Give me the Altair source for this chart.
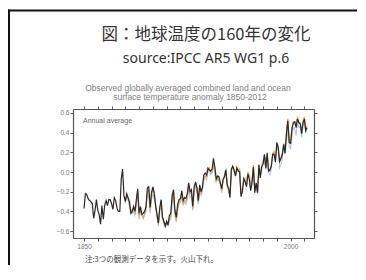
import altair as alt
import pandas as pd

# ---------------- data ----------------
title_text = ["図：地球温度の160年の変化"]
subtitle_text = ["source:IPCC AR5 WG1 p.6"]
inner_title = ["Observed globally averaged combined land and ocean",
               "surface temperature anomaly 1850-2012"]
panel_label = ["Annual average"]
footer_text = ["注:3つの観測データを示す。火山下れ。"]

years_black = list(range(1850, 2013))
black_vals = [
    -0.37, -0.22, -0.23, -0.27, -0.29, -0.30, -0.32, -0.47, -0.39, -0.28,
    -0.39, -0.43, -0.53, -0.34, -0.48, -0.34, -0.29, -0.34, -0.28, -0.28,
    -0.32, -0.38, -0.26, -0.29, -0.37, -0.40, -0.40, -0.08, 0.03, -0.24,
    -0.30, -0.22, -0.26, -0.30, -0.42, -0.40, -0.35, -0.40, -0.28, -0.17,
    -0.42, -0.35, -0.43, -0.42, -0.40, -0.35, -0.16, -0.15, -0.36, -0.21,
    -0.15, -0.22, -0.34, -0.43, -0.52, -0.36, -0.28, -0.46, -0.50, -0.55,
    -0.50, -0.54, -0.44, -0.42, -0.24, -0.18, -0.39, -0.46, -0.33, -0.28,
    -0.27, -0.19, -0.29, -0.26, -0.27, -0.22, -0.11, -0.20, -0.18, -0.35,
    -0.15, -0.10, -0.16, -0.29, -0.13, -0.20, -0.15, -0.03, -0.01, -0.03,
    0.04, 0.02, 0.01, 0.03, 0.14, 0.05, -0.07, -0.04, -0.05, -0.11,
    -0.17, -0.07, -0.05, 0.02, -0.13, -0.17, -0.26, 0.03, 0.06, 0.02,
    -0.04, 0.04, 0.01, 0.00, -0.25, -0.20, -0.07, -0.10, -0.15, -0.02,
    -0.07, -0.19, -0.11, 0.05, -0.21, -0.11, -0.21, 0.07, -0.06, 0.05,
    0.08, 0.18, 0.04, 0.19, 0.01, 0.02, 0.06, 0.18, 0.18, 0.10,
    0.30, 0.25, 0.11, 0.14, 0.18, 0.28, 0.19, 0.39, 0.52, 0.30,
    0.29, 0.44, 0.50, 0.51, 0.45, 0.54, 0.50, 0.49, 0.39, 0.50,
    0.54, 0.42, 0.45,
]

years_other = list(range(1880, 2013))
orange_vals = [
    -0.28, -0.24, -0.27, -0.33, -0.40, -0.38, -0.36, -0.42, -0.31, -0.20,
    -0.45, -0.38, -0.44, -0.47, -0.42, -0.38, -0.20, -0.18, -0.38, -0.24,
    -0.17, -0.20, -0.33, -0.44, -0.52, -0.38, -0.30, -0.47, -0.51, -0.53,
    -0.52, -0.53, -0.47, -0.45, -0.27, -0.21, -0.41, -0.49, -0.37, -0.30,
    -0.29, -0.22, -0.32, -0.29, -0.30, -0.25, -0.13, -0.22, -0.21, -0.37,
    -0.17, -0.12, -0.17, -0.31, -0.16, -0.22, -0.17, -0.06, -0.04, -0.05,
    0.02, 0.04, -0.01, 0.00, 0.10, 0.02, -0.09, -0.06, -0.08, -0.12,
    -0.19, -0.09, -0.04, 0.03, -0.14, -0.18, -0.25, 0.01, 0.05, 0.01,
    -0.02, 0.05, 0.02, 0.03, -0.22, -0.17, -0.06, -0.08, -0.13, 0.00,
    -0.05, -0.16, -0.09, 0.07, -0.18, -0.12, -0.19, 0.08, -0.03, 0.06,
    0.11, 0.17, 0.05, 0.20, 0.02, 0.01, 0.07, 0.19, 0.20, 0.12,
    0.28, 0.25, 0.10, 0.13, 0.19, 0.29, 0.22, 0.40, 0.54, 0.33,
    0.31, 0.44, 0.51, 0.51, 0.47, 0.56, 0.51, 0.50, 0.41, 0.51,
    0.56, 0.43, 0.47,
]
blue_vals = [
    -0.32, -0.25, -0.28, -0.35, -0.42, -0.42, -0.39, -0.45, -0.32, -0.22,
    -0.48, -0.40, -0.42, -0.46, -0.44, -0.40, -0.22, -0.20, -0.42, -0.28,
    -0.22, -0.27, -0.36, -0.45, -0.55, -0.40, -0.33, -0.48, -0.53, -0.56,
    -0.52, -0.55, -0.49, -0.48, -0.31, -0.24, -0.44, -0.51, -0.39, -0.32,
    -0.31, -0.24, -0.34, -0.30, -0.33, -0.28, -0.17, -0.26, -0.25, -0.39,
    -0.20, -0.14, -0.19, -0.33, -0.19, -0.24, -0.19, -0.08, -0.06, -0.08,
    0.00, 0.02, -0.03, -0.01, 0.07, -0.02, -0.10, -0.08, -0.09, -0.13,
    -0.21, -0.08, -0.03, 0.04, -0.15, -0.17, -0.24, 0.02, 0.04, 0.00,
    -0.04, 0.03, 0.01, 0.02, -0.23, -0.18, -0.08, -0.06, -0.14, -0.01,
    -0.03, -0.13, -0.07, 0.04, -0.19, -0.14, -0.23, 0.05, -0.04, 0.03,
    0.10, 0.16, 0.02, 0.17, -0.01, -0.03, 0.04, 0.16, 0.22, 0.13,
    0.25, 0.22, 0.04, 0.07, 0.13, 0.27, 0.18, 0.30, 0.45, 0.26,
    0.24, 0.36, 0.45, 0.44, 0.37, 0.50, 0.45, 0.47, 0.35, 0.46,
    0.51, 0.40, 0.42,
]

y_ticks = [-0.6, -0.4, -0.2, 0.0, 0.2, 0.4, 0.6]
x_ticks = list(range(1850, 2011, 10))
x_labels = [1850, 2000]

# ---------------- chart ----------------
W, H = 241, 129
xs = alt.Scale(domain=[1842, 2017], nice=False, zero=False)
ys = alt.Scale(domain=[-0.67, 0.64], nice=False, zero=False)

axis_common = dict(domainColor="#555", domainWidth=1.2, tickColor="#555",
                   tickWidth=1, grid=False, title=None,
                   labelColor="#777", labelFont="Liberation Sans", labelFontSize=6.5)

label_expr = " || ".join(f"datum.value == {v}" for v in x_labels)
x_bottom = alt.Axis(orient="bottom", values=x_ticks, format="d", tickSize=3,
                    labelPadding=2, labelExpr=f"({label_expr}) ? datum.label : ''",
                    **axis_common)
x_top = alt.Axis(orient="top", values=x_ticks, tickSize=3, labels=False, **axis_common)
y_left = alt.Axis(orient="left", values=y_ticks, format=".1f", tickSize=3,
                  labelPadding=1, **axis_common)
y_right = alt.Axis(orient="right", values=y_ticks, tickSize=3, labels=False, **axis_common)

df_black = pd.DataFrame({"year": years_black, "v": black_vals})
df_other = pd.DataFrame({"year": years_other, "o": orange_vals, "b": blue_vals})

blue = alt.Chart(df_other).mark_line(color="#a9cbe8", strokeWidth=1.1).encode(
    x=alt.X("year:Q", scale=xs, axis=x_top),
    y=alt.Y("b:Q", scale=ys, axis=y_right),
)
orange = alt.Chart(df_other).mark_line(color="#eea257", strokeWidth=1.2).encode(
    x=alt.X("year:Q", scale=xs, axis=None),
    y=alt.Y("o:Q", scale=ys, axis=None),
)
black = alt.Chart(df_black).mark_line(color="#2a2a2a", strokeWidth=1.2).encode(
    x=alt.X("year:Q", scale=xs, axis=x_bottom),
    y=alt.Y("v:Q", scale=ys, axis=y_left),
)


def text_layer(values, x, y, size, color, font, align="center"):
    df = pd.DataFrame({"t": values})
    return alt.Chart(df).mark_text(align=align, baseline="middle", fontSize=size,
                                   color=color, font=font).encode(
        text="t:N", x=alt.value(x), y=alt.value(y),
    )


title = text_layer(title_text, 133, -74, 16.5, "#333333", "Noto Sans CJK JP")
subtitle = text_layer(subtitle_text, 133, -50, 14, "#333333", "Noto Sans")
inner1 = text_layer(inner_title[:1], 115, -21, 8.5, "#808080", "Liberation Sans")
inner2 = text_layer(inner_title[1:], 117, -12, 8.5, "#808080", "Liberation Sans")
plabel = text_layer(panel_label, 10, 12, 7, "#666666", "Liberation Sans", align="left")
footer = text_layer(footer_text, 12, 151, 7.5, "#444444", "Noto Sans CJK JP", align="left")

# slide frame (top and left edges), kept strictly inside the drawing area
one = pd.DataFrame({"a": [0]})
border_top = alt.Chart(one).mark_rect(color="#111").encode(
    x=alt.value(-65), x2=alt.value(284), y=alt.value(-99.5), y2=alt.value(-97.5))
border_left = alt.Chart(one).mark_rect(color="#111").encode(
    x=alt.value(-65), x2=alt.value(-63), y=alt.value(-99.5), y2=alt.value(156))

chart = alt.layer(
    blue, orange, black, title, subtitle, inner1, inner2, plabel, footer,
    border_top, border_left,
).resolve_axis(x="independent", y="independent").properties(
    width=W, height=H,
    autosize=alt.AutoSizeParams(type="none"),
    padding={"left": 65, "top": 101, "right": 44, "bottom": 27},
    background="white",
).configure_view(stroke=None)

chart.save("out.html", embed_options={"renderer": "svg", "actions": False})
